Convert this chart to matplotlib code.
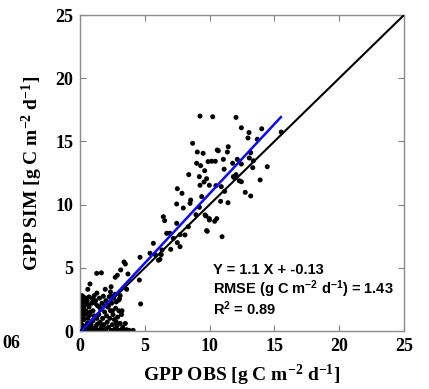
import matplotlib
matplotlib.use("Agg")
import matplotlib.pyplot as plt
import numpy as np

# Math pieces (superscripts) use the same font as the surrounding text
plt.rcParams["mathtext.default"] = "regular"

# Observed vs simulated daily GPP (g C m-2 d-1)
obs_high = [9.26, 10.24, 12.04, 12.45, 13.04, 12.96, 13.68, 14.02, 15.53,
            8.69, 9.05, 9.50, 9.00, 9.31, 9.62, 9.88, 10.16, 10.44, 10.59,
            8.39, 9.21, 9.57, 7.51, 7.87, 8.54, 10.67, 11.44, 11.37, 11.06,
            11.78, 12.14, 12.45, 13.17, 13.06, 13.37, 13.33, 14.45, 13.90,
            11.83, 12.04, 11.93, 12.29, 12.45, 9.77, 10.49, 10.90, 11.16,
            9.98, 12.75, 13.17, 9.26, 9.39, 10.85, 11.42, 11.12]
sim_high = [17.00, 16.95, 16.90, 16.08, 15.70, 15.27, 15.17, 16.00, 15.74,
            14.85, 14.16, 14.06, 13.27, 13.08, 12.68, 13.40, 13.43, 13.43, 14.32,
            12.37, 12.21, 11.79, 11.26, 10.89, 10.36, 14.26, 14.58, 14.16, 13.58,
            13.27, 13.58, 13.21, 14.10, 13.69, 13.47, 12.92, 13.00, 11.95,
            12.21, 12.37, 12.10, 11.89, 11.81, 12.05, 11.50, 11.42, 11.05,
            11.53, 10.97, 10.68, 11.53, 10.63, 10.26, 10.15, 12.80]

obs_mid = [6.43, 6.53, 7.46, 7.97, 8.49, 8.95, 9.21, 9.72, 9.98, 9.82,
           6.69, 7.72, 7.51, 7.00, 7.72, 6.33, 5.66, 6.27, 6.17, 5.40,
           4.63, 4.58, 4.68, 3.40, 3.50, 3.14, 2.88, 2.72, 3.70, 3.60,
           1.65, 1.29, 0.77, 2.99, 3.24, 9.77, 10.96, 9.98, 10.55, 10.39,
           9.65, 6.94, 7.46, 8.36, 7.20, 8.10, 5.80, 6.05]
sim_mid = [9.04, 8.73, 10.05, 9.73, 10.10, 9.20, 9.79, 9.10, 8.78, 7.89,
           7.73, 7.62, 6.99, 6.46, 6.67, 6.41, 6.94, 6.04, 5.67, 6.15,
           5.83, 4.03, 2.14, 5.46, 5.30, 4.83, 4.41, 4.25, 4.51, 3.30,
           4.60, 4.56, 3.72, 2.45, 1.60, 7.94, 7.46, 8.89, 8.89, 8.68,
           9.18, 7.73, 8.52, 8.25, 7.33, 7.60, 6.05, 5.60]

obs_low = [0.10, 0.15, 0.08, 0.20, 0.12, 0.18, 0.05, 0.22, 0.10, 0.30, 0.35, 0.30,
           0.35, 0.28, 0.40, 0.45, 0.50, 0.55, 0.60, 0.55, 0.70, 0.65, 0.80, 0.85,
           0.90, 0.95, 0.75, 1.00, 1.05, 1.10, 1.20, 1.25, 1.30, 1.35, 1.40, 1.45,
           1.50, 1.55, 1.60, 1.65, 1.70, 1.75, 1.80, 1.85, 1.90, 1.95, 2.00, 2.05,
           2.10, 2.15, 2.20, 2.25, 2.30, 2.35, 2.40, 2.45, 2.50, 2.55, 2.60, 2.65,
           2.70, 2.75, 2.80, 2.85, 2.90, 3.00, 3.05, 3.10, 3.20, 3.30, 3.40, 3.60,
           3.80, 4.10, 3.20, 3.50, 0.20, 0.40, 0.60, 1.20, 1.60, 2.00, 2.60, 0.25,
           0.45, 0.70, 1.00, 1.10, 1.50, 0.90, 1.35, 0.80, 1.90, 2.20, 1.15, 0.60,
           2.50, 1.70, 2.80, 3.00, 2.40, 0.50, 0.30, 0.15, 1.30, 2.70, 3.10, 2.35,
           0.60, 1.95, 2.40]
sim_low = [0.20, 0.50, 0.80, 1.10, 1.40, 1.70, 2.00, 2.30, 2.55, 0.05, 0.35, 0.90,
           1.30, 1.90, 2.20, 2.60, 0.10, 0.60, 1.00, 2.40, 2.70, 0.30, 0.05, 0.50,
           2.20, 2.55, 1.25, 0.80, 0.20, 2.80, 2.40, 0.40, 1.00, 2.00, 0.05, 1.30,
           2.60, 0.70, 1.70, 0.25, 2.20, 1.00, 2.75, 0.50, 1.50, 0.10, 2.40, 1.20,
           0.70, 1.90, 0.30, 2.70, 1.00, 1.60, 0.05, 2.20, 0.50, 1.30, 2.60, 0.90,
           0.15, 1.80, 2.30, 0.40, 1.10, 0.05, 2.55, 0.60, 0.10, 0.30, 0.05, 0.10,
           0.05, 0.05, 1.30, 0.60, 0.05, 0.15, 0.05, 0.10, 0.05, 0.15, 0.05, 2.70,
           1.60, 1.90, 1.60, 1.20, 1.90, 0.15, 0.55, 1.50, 2.00, 2.00, 2.20, 2.10,
           1.60, 0.45, 0.70, 1.60, 2.75, 1.40, 1.55, 2.80, 3.00, 2.90, 2.80, 3.10,
           3.30, 3.30, 3.50]

obs = np.array(obs_high + obs_mid + obs_low)
sim = np.array(sim_high + sim_mid + sim_low)

# Regression statistics shown in the panel
slope, intercept = 1.1, -0.13
rmse, r2 = 1.43, 0.89
fit_x = [0.12, 15.5]

ticks = [0, 5, 10, 15, 20, 25]

fig = plt.figure(figsize=(4.29, 3.89), dpi=100)
ax = fig.add_axes([80 / 429, 1 - 331 / 389, 324 / 429, 316 / 389])

ax.scatter(obs, sim, s=13, c="black", edgecolors="none", zorder=2)
ax.plot([0, 25], [0, 25], color="black", lw=1.5, zorder=3)
ax.plot(fit_x, [slope * x + intercept for x in fit_x], color="#0a0aff", lw=1.8, zorder=4)

ax.set_xlim(0, 25)
ax.set_ylim(0, 25)
ax.set_xticks(ticks)
ax.set_yticks(ticks)
serif = ["Liberation Serif", "DejaVu Serif"]
ax.set_xticklabels([str(t) for t in ticks], family=serif, weight="bold", fontsize=13)
ax.set_yticklabels([str(t) for t in ticks], family=serif, weight="bold", fontsize=13)
ax.tick_params(direction="in", length=4, width=0.8, color="#808080",
               top=True, right=True, pad=5)
for sp in ax.spines.values():
    sp.set_color("#8c8c8c")
    sp.set_linewidth(1.0)

ax.set_xlabel(r"GPP OBS [g C m$^{-2}$ d$^{-1}$]", family=serif,
              weight="bold", fontsize=14, labelpad=6)
ax.set_ylabel(r"GPP SIM [g C m$^{-2}$ d$^{-1}$]", family=serif,
              weight="bold", fontsize=14, labelpad=7)

sans = ["Liberation Sans", "DejaVu Sans"]
ax.text(10.25, 4.5, f"Y = {slope} X + {intercept}", family=sans, weight="bold",
        fontsize=10.5, va="baseline")
ax.text(10.25, 2.93, r"RMSE (g C m$^{-2}$ d$^{-1}$) = " + f"{rmse}",
        family=sans, weight="bold", fontsize=10.5, va="baseline")
ax.text(10.25, 1.27, r"R$^{2}$ = " + f"{r2}", family=sans, weight="bold",
        fontsize=10.5, va="baseline")

fig.text(20 / 429, 1 - 344 / 389, "06", family=serif, weight="bold", fontsize=13,
         ha="right", va="center")

fig.savefig("out.png", dpi=100)
